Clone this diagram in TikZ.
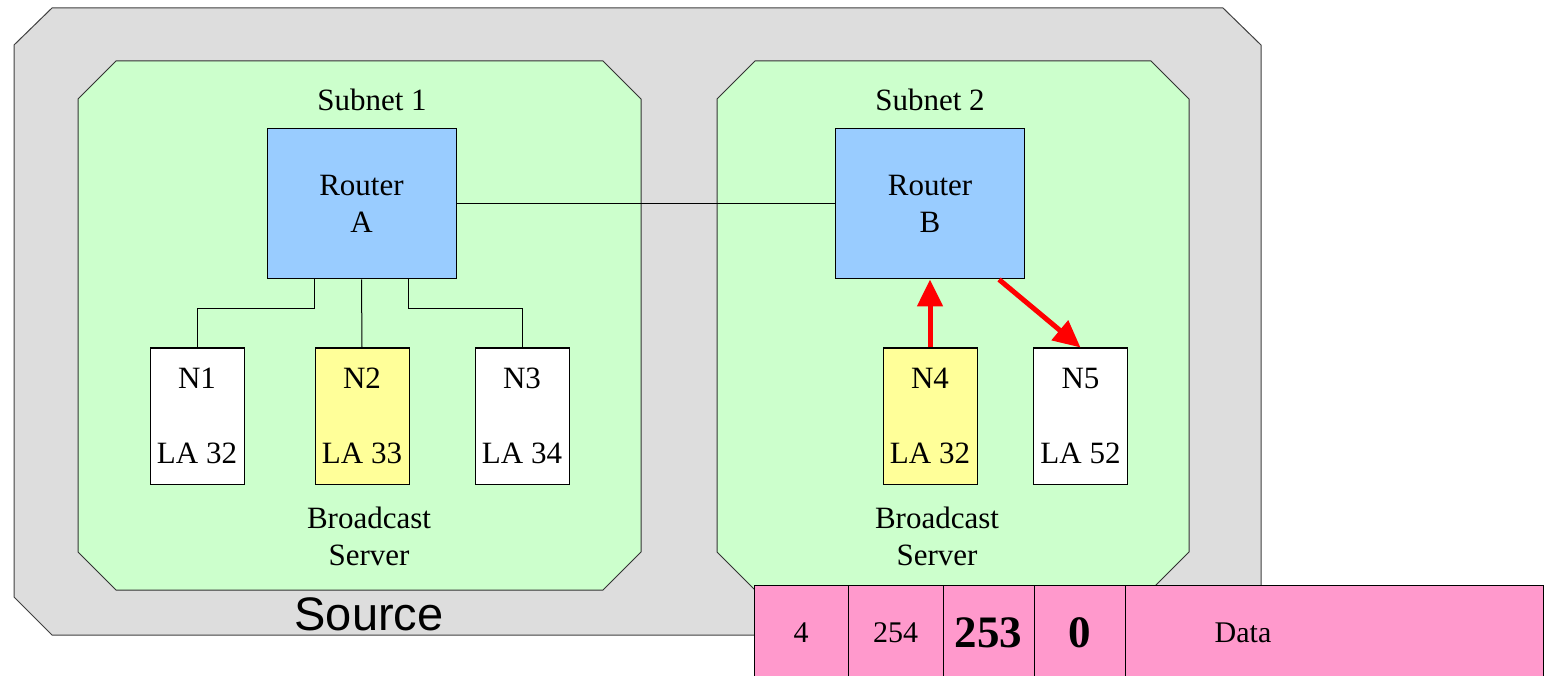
\documentclass[tikz,border=0pt]{standalone}
\usepackage{fontspec}
\setmainfont{Liberation Serif}
\newfontfamily\srcfont{Liberation Sans}
\usetikzlibrary{arrows.meta,positioning}
\definecolor{SrcGray}{HTML}{DDDDDD}
\definecolor{NetGreen}{HTML}{CCFFCC}
\definecolor{RtrBlue}{HTML}{99CCFF}
\definecolor{SrvYellow}{HTML}{FFFF99}
\definecolor{PktPink}{HTML}{FF99CC}

\begin{document}
\begin{tikzpicture}[x=1pt, y=-1pt, line width=1pt,
  every node/.style={font=\fontsize{31}{37}\selectfont},
  router/.style={draw, fill=RtrBlue, minimum width=189pt, minimum height=150pt, align=center, inner sep=0pt},
  host/.style={draw, fill=white, minimum width=94pt, minimum height=136pt, align=center, inner sep=0pt},
  srvhost/.style={host, fill=SrvYellow},
  hop/.style={red, line width=5pt, -{Triangle[length=27pt,width=25pt]}},
  field/.style={draw, fill=PktPink, minimum height=95pt, inner sep=0pt, outer sep=0pt, anchor=west,
    font=\fontsize{30}{36}\selectfont},
  bigfield/.style={field, font=\fontsize{45}{54}\selectfont\bfseries}]
\useasboundingbox (0,0) rectangle (1545,676);

% source network and its two subnets
\filldraw[fill=SrcGray, draw=black!75] (14,45) -- (52,8) -- (1223,8) -- (1261,45) -- (1261,597) -- (1223,635) -- (52,635) -- (14,597) -- cycle;
\filldraw[fill=NetGreen, draw=black!80] (78,99) -- (116,61) -- (603,61) -- (641,99) -- (641,552) -- (603,590) -- (116,590) -- (78,552) -- cycle;
\filldraw[fill=NetGreen, draw=black!80] (717,99) -- (755,61) -- (1151,61) -- (1189,99) -- (1189,552) -- (1151,590) -- (755,590) -- (717,552) -- cycle;
\node (src) at (369,614) {\srcfont\fontsize{47}{56}\selectfont Source};
\node (sub1) at (372,100) {Subnet 1};
\node (sub2) at (930,100) {Subnet 2};
\node[align=center] (bs1) at (369,536) {Broadcast\\Server};
\node[align=center] (bs2) at (937,536) {Broadcast\\Server};

% routers and hosts
\node[router] (ra) at (361.5,204) {Router\\A};
\node[router] (rb) at (930,204) {Router\\B};
\node[host] (n1) at (197,416) {N1\\[38pt]LA 32};
\node[srvhost] (n2) at (362,416) {N2\\[38pt]LA 33};
\node[host] (n3) at (522,416) {N3\\[38pt]LA 34};
\node[srvhost] (n4) at (930,416) {N4\\[38pt]LA 32};
\node[host] (n5) at (1080.5,416) {N5\\[38pt]LA 52};

\draw (ra) -- (rb);
\draw ([xshift=-47pt]ra.south) -- ++(0,29) -| (n1.north);
\draw (ra.south) -- (n2.north);
\draw ([xshift=47pt]ra.south) -- ++(0,29) -| (n3.north);

% broadcast path in subnet 2
\draw[hop] (n4.north) -- (rb.south);
\draw[hop] ([xshift=69pt]rb.south) -- (n5.north);

% packet header
\node[field, minimum width=94pt] (f1) at (754,632.5) {4};
\node[field, minimum width=95pt, right=0pt of f1] (f2) {254};
\node[bigfield, minimum width=91pt, right=0pt of f2] (f3) {253};
\node[bigfield, minimum width=91pt, right=0pt of f3] (f4) {0};
\node[field, minimum width=418pt, right=0pt of f4] (f5) {};
\node[font=\fontsize{30}{36}\selectfont] (dlbl) at ([xshift=118pt]f5.west) {Data};
\end{tikzpicture}
\end{document}
